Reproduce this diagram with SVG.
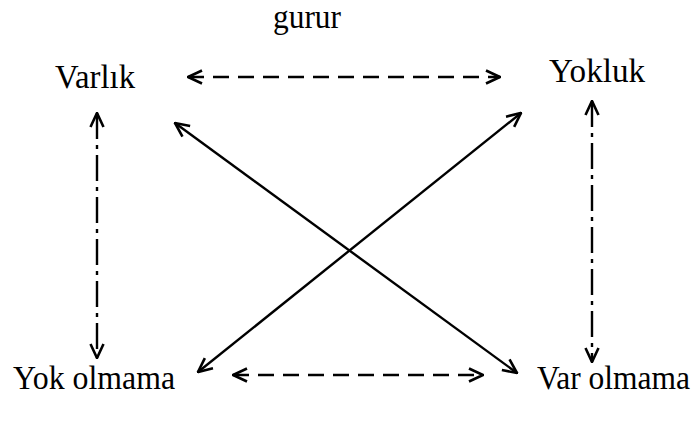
<svg xmlns="http://www.w3.org/2000/svg" width="697" height="421" viewBox="0 0 697 421">
<style>
text{font-family:'Liberation Serif','Times New Roman',serif;font-size:33px;fill:#000}
.c{fill:none;stroke:#000;stroke-width:2.4}
.dash{stroke-dasharray:16 9}
.dd{stroke-dasharray:26 6 4 6}
</style>
<defs>
<marker id="ah" viewBox="0 0 16 16" refX="15" refY="8" markerWidth="16" markerHeight="16" markerUnits="userSpaceOnUse" orient="auto-start-reverse">
<path d="M1,1.5 L15,8 L1,14.5" fill="none" stroke="#000" stroke-width="2.6"/>
</marker>
</defs>
<rect width="697" height="421" fill="#fff"/>
<g id="title"><text x="273" y="28" textLength="68" lengthAdjust="spacingAndGlyphs">gurur</text></g>
<g id="varlik"><text x="55" y="88" textLength="80" lengthAdjust="spacingAndGlyphs">Varlık</text></g>
<g id="yokluk"><text x="549" y="82" textLength="96" lengthAdjust="spacingAndGlyphs">Yokluk</text></g>
<g id="yokolmama"><text x="13" y="389" textLength="162" lengthAdjust="spacingAndGlyphs">Yok olmama</text></g>
<g id="varolmama"><text x="537" y="389" textLength="153" lengthAdjust="spacingAndGlyphs">Var olmama</text></g>
<g id="connectors">
<line class="c dash" x1="188" y1="77" x2="500" y2="77" marker-start="url(#ah)" marker-end="url(#ah)"/>
<line class="c dash" x1="233" y1="375" x2="483" y2="375" marker-start="url(#ah)" marker-end="url(#ah)"/>
<line class="c dd" x1="97" y1="113" x2="97" y2="358" marker-start="url(#ah)" marker-end="url(#ah)"/>
<line class="c dd" x1="592" y1="101" x2="592" y2="362" marker-start="url(#ah)" marker-end="url(#ah)"/>
<line class="c" x1="175" y1="123" x2="517" y2="373" marker-start="url(#ah)" marker-end="url(#ah)"/>
<line class="c" x1="521" y1="113" x2="198" y2="372" marker-start="url(#ah)" marker-end="url(#ah)"/>
</g>
</svg>
